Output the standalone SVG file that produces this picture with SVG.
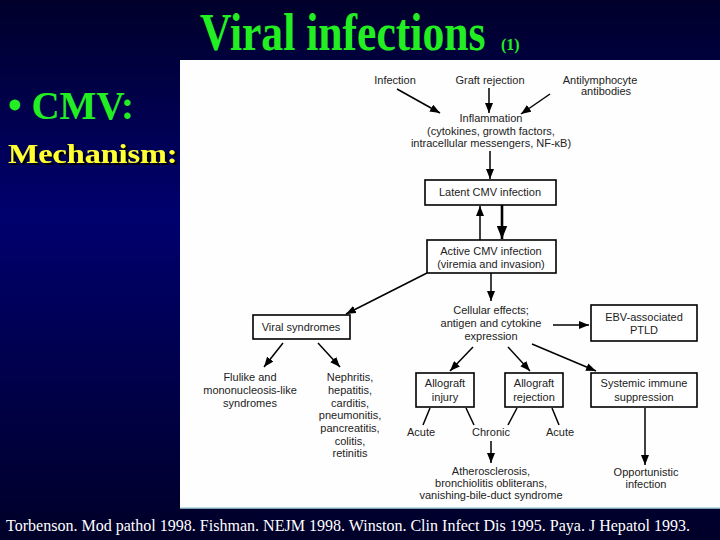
<svg xmlns="http://www.w3.org/2000/svg" width="720" height="540" viewBox="0 0 720 540">
<defs>
<linearGradient id="bg" x1="0" y1="0" x2="0" y2="1">
<stop offset="0" stop-color="#00002a"/>
<stop offset="0.4" stop-color="#00006e"/>
<stop offset="1" stop-color="#000028"/>
</linearGradient>
<filter id="shadow" x="-5%" y="-20%" width="115%" height="150%">
<feDropShadow dx="2" dy="2" stdDeviation="0.4" flood-color="#000" flood-opacity="1"/>
</filter>
<marker id="ah" viewBox="0 0 10 8" refX="10" refY="4" markerWidth="10" markerHeight="8" markerUnits="userSpaceOnUse" orient="auto">
<path d="M0,0 L10,4 L0,8 Z" fill="#000"/>
</marker>
<marker id="ahb" viewBox="0 0 10 8" refX="10" refY="4" markerWidth="13" markerHeight="11" markerUnits="userSpaceOnUse" orient="auto">
<path d="M0,0 L10,4 L0,8 Z" fill="#000"/>
</marker>
<style>
.ft{font-family:"Liberation Sans",Arial,sans-serif;font-size:11px;fill:#222;text-anchor:middle}
.bx{fill:#fff;stroke:#000;stroke-width:1.6}
.ln{fill:none;stroke:#000;stroke-width:1.5}
.ar{fill:none;stroke:#000;stroke-width:1.5;marker-end:url(#ah)}
.sr{font-family:"Liberation Serif","Times New Roman",serif;font-weight:bold}
</style>
</defs>
<rect width="720" height="540" fill="url(#bg)"/>
<g id="title">
<text class="sr" transform="translate(200,50) scale(0.839,1)" x="0" y="0" font-size="52" fill="#22ee22">Viral infections</text>
<text class="sr" x="501" y="50" font-size="16" fill="#22ee22">(1)</text>
</g>
<g id="bullet">
<text class="sr" x="8" y="119" font-size="39" fill="#22ee22">• CMV:</text>
<text class="sr" transform="translate(8,163) scale(1.19,1)" x="0" y="0" font-size="27" fill="#ffff33" filter="url(#shadow)">Mechanism:</text>
</g>
<rect id="panel" x="180" y="60" width="540" height="448" fill="#fefefe"/>
<line x1="180" y1="508" x2="720" y2="508" stroke="#a8d4dc" stroke-width="1.5"/>
<g id="connectors">
<path class="ar" d="M397,89 L440,113"/>
<path class="ar" d="M489,88 L489,113"/>
<path class="ar" d="M550,94 L521,114"/>
<path class="ar" d="M490,151 L490,179"/>
<path d="M502,205 L502,239" fill="none" stroke="#000" stroke-width="2.6" marker-end="url(#ahb)"/>
<path class="ar" d="M480,240 L480,206"/>
<path class="ar" d="M427,273 L346,314"/>
<path class="ar" d="M491,273 L491,301"/>
<path class="ar" d="M553,325 L589,325"/>
<path class="ar" d="M283,343 L264,367"/>
<path class="ar" d="M318,343 L340,367"/>
<path class="ar" d="M473,347 L450,371"/>
<path class="ar" d="M508,347 L530,371"/>
<path class="ar" d="M532,344 L596,371"/>
<path class="ln" d="M430,408 L423,425"/>
<path class="ln" d="M466,408 L474,425"/>
<path class="ln" d="M517,408 L508,425"/>
<path class="ln" d="M552,408 L559,425"/>
<path class="ar" d="M491,441 L491,463"/>
<path class="ar" d="M645,408 L645,465"/>
</g>
<g id="infection"><text class="ft" x="395" y="84">Infection</text></g>
<g id="graft-rejection"><text class="ft" x="490" y="84">Graft rejection</text></g>
<g id="antilymphocyte"><text class="ft" x="600" y="84">Antilymphocyte</text><text class="ft" x="606" y="95">antibodies</text></g>
<g id="inflammation">
<text class="ft" x="491" y="122">Inflammation</text>
<text class="ft" x="491" y="135">(cytokines, growth factors,</text>
<text class="ft" x="491" y="147">intracellular messengers, NF-κB)</text>
</g>
<g id="latent"><rect class="bx" x="425" y="180" width="131" height="25"/><text class="ft" x="490" y="196">Latent CMV infection</text></g>
<g id="active"><rect class="bx" x="427" y="240" width="129" height="33"/><text class="ft" x="491" y="255">Active CMV infection</text><text class="ft" x="491" y="268">(viremia and invasion)</text></g>
<g id="viral-syndromes"><rect class="bx" x="253" y="315" width="97" height="24"/><text class="ft" x="301" y="331">Viral syndromes</text></g>
<g id="cellular">
<text class="ft" x="491" y="314">Cellular effects;</text>
<text class="ft" x="491" y="327">antigen and cytokine</text>
<text class="ft" x="491" y="340">expression</text>
</g>
<g id="ebv"><rect class="bx" x="591" y="305" width="106" height="36"/><text class="ft" x="644" y="321">EBV-associated</text><text class="ft" x="644" y="334">PTLD</text></g>
<g id="flulike">
<text class="ft" x="250" y="381">Flulike and</text>
<text class="ft" x="250" y="394">mononucleosis-like</text>
<text class="ft" x="250" y="407">syndromes</text>
</g>
<g id="organ">
<text class="ft" x="350" y="381">Nephritis,</text>
<text class="ft" x="350" y="394">hepatitis,</text>
<text class="ft" x="350" y="407">carditis,</text>
<text class="ft" x="350" y="419">pneumonitis,</text>
<text class="ft" x="350" y="432">pancreatitis,</text>
<text class="ft" x="350" y="445">colitis,</text>
<text class="ft" x="350" y="457">retinitis</text>
</g>
<g id="allograft-injury"><rect class="bx" x="416" y="373" width="58" height="34"/><text class="ft" x="445" y="387">Allograft</text><text class="ft" x="445" y="401">injury</text></g>
<g id="allograft-rejection"><rect class="bx" x="505" y="373" width="58" height="34"/><text class="ft" x="534" y="387">Allograft</text><text class="ft" x="534" y="401">rejection</text></g>
<g id="systemic"><rect class="bx" x="591" y="373" width="106" height="34"/><text class="ft" x="644" y="387">Systemic immune</text><text class="ft" x="644" y="401">suppression</text></g>
<g id="acute1"><text class="ft" x="421" y="436">Acute</text></g>
<g id="chronic"><text class="ft" x="491" y="436">Chronic</text></g>
<g id="acute2"><text class="ft" x="560" y="436">Acute</text></g>
<g id="atherosclerosis">
<text class="ft" x="491" y="475">Atherosclerosis,</text>
<text class="ft" x="491" y="487">bronchiolitis obliterans,</text>
<text class="ft" x="491" y="499">vanishing-bile-duct syndrome</text>
</g>
<g id="opportunistic"><text class="ft" x="646" y="476">Opportunistic</text><text class="ft" x="646" y="488">infection</text></g>
<g id="citation"><text x="6" y="531" font-family="'Liberation Serif','Times New Roman',serif" font-size="16" fill="#fff" textLength="684" lengthAdjust="spacingAndGlyphs">Torbenson. Mod pathol 1998. Fishman. NEJM 1998. Winston. Clin Infect Dis 1995. Paya. J Hepatol 1993.</text></g>
</svg>
